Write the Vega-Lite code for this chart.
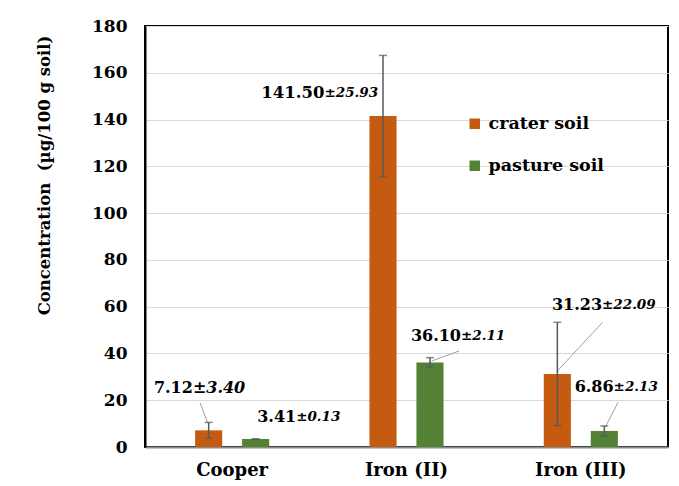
{
  "$schema": "https://vega.github.io/schema/vega-lite/v6.json",
  "width": 523,
  "height": 421,
  "autosize": {"type": "none"},
  "padding": {"left": 145, "top": 26, "right": 11, "bottom": 39},
  "background": "white",
  "data": {
    "values": [
      {"metal": "Cooper", "soil": "crater soil", "value": 7.12, "sd": 3.40},
      {"metal": "Cooper", "soil": "pasture soil", "value": 3.41, "sd": 0.13},
      {"metal": "Iron (II)", "soil": "crater soil", "value": 141.50, "sd": 25.93},
      {"metal": "Iron (II)", "soil": "pasture soil", "value": 36.10, "sd": 2.11},
      {"metal": "Iron (III)", "soil": "crater soil", "value": 31.23, "sd": 22.09},
      {"metal": "Iron (III)", "soil": "pasture soil", "value": 6.86, "sd": 2.13}
    ]
  },
  "transform": [
    {"calculate": "'±' + format(datum.sd, '.2f')", "as": "sdlabel"}
  ],
  "encoding": {
    "x": {
      "field": "metal", "type": "nominal", "sort": ["Cooper", "Iron (II)", "Iron (III)"],
      "scale": {"paddingInner": 0.575, "paddingOuter": 0.2875},
      "axis": {"title": null, "labelAngle": 0, "ticks": false, "domainColor": "#8C8C8C", "domainWidth": 2,
               "labelFont": "DejaVu Serif", "labelFontSize": 18, "labelFontWeight": "bold", "labelColor": "#000", "labelPadding": 14, "grid": false}
    },
    "xOffset": {
      "field": "soil", "type": "nominal", "sort": ["crater soil", "pasture soil"],
      "scale": {"paddingInner": 0.423, "paddingOuter": 0}
    },
    "y": {
      "field": "value", "type": "quantitative",
      "scale": {"domain": [0, 180], "nice": false},
      "axis": {"title": "Concentration\u00a0 (µg/100 g soil)", "values": [0, 20, 40, 60, 80, 100, 120, 140, 160, 180],
               "domain": true, "domainColor": "#000", "domainWidth": 2, "ticks": false, "labelPadding": 18, "gridColor": "#D9D9D9", "gridWidth": 1,
               "labelFont": "DejaVu Serif", "labelFontSize": 17, "labelFontWeight": "bold", "labelColor": "#000",
               "titleFont": "DejaVu Serif", "titleFontSize": 16.5, "titleFontWeight": "bold", "titleColor": "#000",
               "titleX": -101, "titleY": 149, "titleAlign": "center", "titleBaseline": "middle", "titleAngle": -90}
    }
  },
  "layer": [
    {
      "transform": [{"filter": "datum.metal == 'Cooper' && datum.soil == 'crater soil'"}],
      "mark": {"type": "point", "shape": "M-8.5,-27.3L-1,-7.3", "size": 4, "filled": false, "stroke": "#A0A0A0", "strokeWidth": 1, "opacity": 1}
    },
    {
      "transform": [{"filter": "datum.metal == 'Iron (II)' && datum.soil == 'pasture soil'"}],
      "mark": {"type": "point", "shape": "M29,-11.6L1.7,-1.6", "size": 4, "filled": false, "stroke": "#A0A0A0", "strokeWidth": 1, "opacity": 1}
    },
    {
      "transform": [{"filter": "datum.metal == 'Iron (III)' && datum.soil == 'crater soil'"}],
      "mark": {"type": "point", "shape": "M45.3,-51.7L0,-3", "size": 4, "filled": false, "stroke": "#A0A0A0", "strokeWidth": 1, "opacity": 1}
    },
    {
      "transform": [{"filter": "datum.metal == 'Iron (III)' && datum.soil == 'pasture soil'"}],
      "mark": {"type": "point", "shape": "M14,-29L1,-4", "size": 4, "filled": false, "stroke": "#A0A0A0", "strokeWidth": 1, "opacity": 1}
    },
    {
      "mark": {"type": "bar"},
      "encoding": {
        "color": {
          "field": "soil", "type": "nominal",
          "scale": {"domain": ["crater soil", "pasture soil"], "range": ["#C55A11", "#548235"]},
          "legend": {"title": null, "orient": "none", "legendX": 321, "legendY": 89, "symbolType": "square", "symbolSize": 110,
                     "symbolStrokeWidth": 0, "labelFont": "DejaVu Serif", "labelFontSize": 17.5, "labelFontWeight": "bold",
                     "labelColor": "#000", "labelOffset": 5, "rowPadding": 23}
        }
      }
    },
    {
      "mark": {"type": "errorbar", "ticks": {"size": 8, "thickness": 1.5, "color": "#595959"}, "rule": {"strokeWidth": 1.5, "color": "#595959"}},
      "encoding": {"yError": {"field": "sd"}}
    },
    {
      "transform": [{"filter": "datum.metal == 'Cooper' && datum.soil == 'crater soil'"}],
      "layer": [
        {"mark": {"type": "text", "align": "right", "baseline": "middle", "dx": -15.8, "dy": -42.8, "font": "DejaVu Serif", "fontSize": 16, "fontWeight": "bold", "color": "#000"},
         "encoding": {"text": {"field": "value", "format": ".2f"}}},
        {"mark": {"type": "text", "align": "left", "baseline": "middle", "dx": -15.8, "dy": -42.8, "font": "DejaVu Serif", "fontSize": 16, "fontWeight": "bold", "fontStyle": "italic", "color": "#000"},
         "encoding": {"text": {"field": "sdlabel"}}}
      ]
    },
    {
      "transform": [{"filter": "datum.metal == 'Cooper' && datum.soil == 'pasture soil'"}],
      "layer": [
        {"mark": {"type": "text", "align": "right", "baseline": "middle", "dx": 40.5, "dy": -22, "font": "DejaVu Serif", "fontSize": 16, "fontWeight": "bold", "color": "#000"},
         "encoding": {"text": {"field": "value", "format": ".2f"}}},
        {"mark": {"type": "text", "align": "left", "baseline": "middle", "dx": 40.5, "dy": -22, "font": "DejaVu Serif", "fontSize": 13.5, "fontWeight": "bold", "fontStyle": "italic", "color": "#000"},
         "encoding": {"text": {"field": "sdlabel"}}}
      ]
    },
    {
      "transform": [{"filter": "datum.metal == 'Iron (II)' && datum.soil == 'crater soil'"}],
      "layer": [
        {"mark": {"type": "text", "align": "right", "baseline": "middle", "dx": -58.5, "dy": -22.7, "font": "DejaVu Serif", "fontSize": 16.5, "fontWeight": "bold", "color": "#000"},
         "encoding": {"text": {"field": "value", "format": ".2f"}}},
        {"mark": {"type": "text", "align": "left", "baseline": "middle", "dx": -58.5, "dy": -22.7, "font": "DejaVu Serif", "fontSize": 13.5, "fontWeight": "bold", "fontStyle": "italic", "color": "#000"},
         "encoding": {"text": {"field": "sdlabel"}}}
      ]
    },
    {
      "transform": [{"filter": "datum.metal == 'Iron (II)' && datum.soil == 'pasture soil'"}],
      "layer": [
        {"mark": {"type": "text", "align": "right", "baseline": "middle", "dx": 31, "dy": -26.8, "font": "DejaVu Serif", "fontSize": 16, "fontWeight": "bold", "color": "#000"},
         "encoding": {"text": {"field": "value", "format": ".2f"}}},
        {"mark": {"type": "text", "align": "left", "baseline": "middle", "dx": 31, "dy": -26.8, "font": "DejaVu Serif", "fontSize": 13.5, "fontWeight": "bold", "fontStyle": "italic", "color": "#000"},
         "encoding": {"text": {"field": "sdlabel"}}}
      ]
    },
    {
      "transform": [{"filter": "datum.metal == 'Iron (III)' && datum.soil == 'crater soil'"}],
      "layer": [
        {"mark": {"type": "text", "align": "right", "baseline": "middle", "dx": 44.7, "dy": -69, "font": "DejaVu Serif", "fontSize": 16, "fontWeight": "bold", "color": "#000"},
         "encoding": {"text": {"field": "value", "format": ".2f"}}},
        {"mark": {"type": "text", "align": "left", "baseline": "middle", "dx": 44.7, "dy": -69, "font": "DejaVu Serif", "fontSize": 13.5, "fontWeight": "bold", "fontStyle": "italic", "color": "#000"},
         "encoding": {"text": {"field": "sdlabel"}}}
      ]
    },
    {
      "transform": [{"filter": "datum.metal == 'Iron (III)' && datum.soil == 'pasture soil'"}],
      "layer": [
        {"mark": {"type": "text", "align": "right", "baseline": "middle", "dx": 9.3, "dy": -44, "font": "DejaVu Serif", "fontSize": 16, "fontWeight": "bold", "color": "#000"},
         "encoding": {"text": {"field": "value", "format": ".2f"}}},
        {"mark": {"type": "text", "align": "left", "baseline": "middle", "dx": 9.3, "dy": -44, "font": "DejaVu Serif", "fontSize": 13.5, "fontWeight": "bold", "fontStyle": "italic", "color": "#000"},
         "encoding": {"text": {"field": "sdlabel"}}}
      ]
    }
  ],
  "config": {
    "view": {"stroke": "#000", "strokeWidth": 2},
    "font": "DejaVu Serif"
  }
}
